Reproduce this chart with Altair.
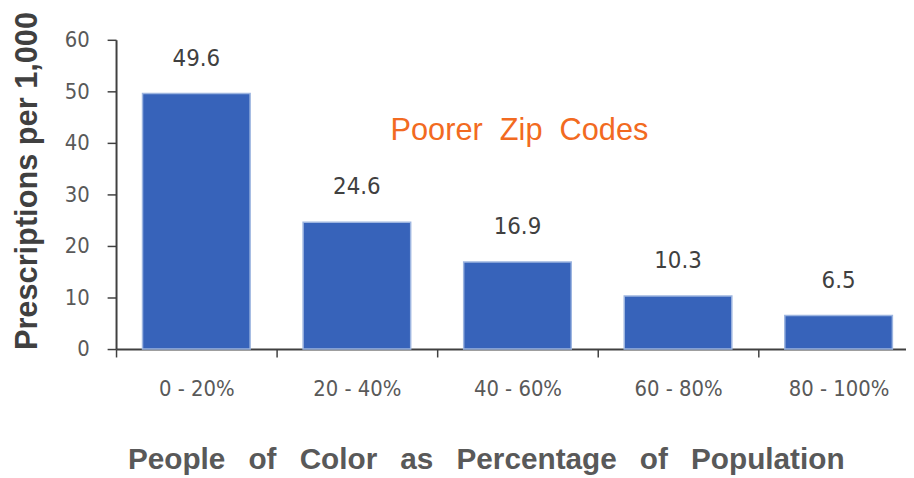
import altair as alt
import pandas as pd

categories = ["0 - 20%", "20 - 40%", "40 - 60%", "60 - 80%", "80 - 100%"]
values = [49.6, 24.6, 16.9, 10.3, 6.5]
labels = ["49.6", "24.6", "16.9", "10.3", "6.5"]
y_ticks = [0, 10, 20, 30, 40, 50, 60]

x_title = "People\u00a0\u2002of\u00a0\u2002Color\u00a0\u2002as\u00a0\u2002Percentage\u00a0\u2002of\u00a0\u2002Population"
y_title = "Prescriptions per 1,000"

note_text = ["Poorer\u00a0\u00a0Zip\u00a0\u00a0Codes"]
note_cat = ["40 - 60%"]
note_y = [42.3]

df = pd.DataFrame({"cat": categories, "val": values, "lab": labels})
note_df = pd.DataFrame({"cat": note_cat, "y": note_y, "t": note_text})

cond = "DejaVu Sans Condensed"

x_scale = alt.Scale(paddingInner=0, paddingOuter=0, range=[0, 810])

x_enc = alt.X(
    "cat:N",
    sort=categories,
    scale=x_scale,
    axis=alt.Axis(
        title=x_title,
        titleFont="Liberation Sans",
        titleFontSize=30,
        titleFontWeight="bold",
        titleColor="#595959",
        titleX=373,
        titleY=112,
        titleBaseline="middle",
        titleAlign="center",
        labelAngle=0,
        labelFont=cond,
        labelFontSize=22,
        labelColor="#595959",
        labelBaseline="middle",
        labelPadding=32,
        domainColor="#404040",
        domainWidth=2,
        tickColor="#404040",
        tickSize=8,
        tickWidth=1.5,
        tickBand="extent",
    ),
)

y_scale = alt.Scale(domain=[0, 60], nice=False)

bars = alt.Chart(df).mark_bar(
    color="#3763BA", stroke="#9DB5E0", strokeWidth=1.5,
    width=alt.RelativeBandSize(0.67),
).encode(
    x=x_enc,
    y=alt.Y(
        "val:Q",
        scale=y_scale,
        axis=alt.Axis(
            values=y_ticks,
            title=y_title,
            titleFont="Liberation Sans",
            titleFontSize=31,
            titleFontWeight="bold",
            titleColor="#404040",
            titleAngle=-90,
            titleX=-89,
            titleY=142,
            titleBaseline="middle",
            titleAlign="center",
            labelFont=cond,
            labelFontSize=22,
            labelColor="#595959",
            labelBaseline="middle",
            labelPadding=18,
            domainColor="#404040",
            domainWidth=2,
            tickColor="#404040",
            tickSize=9,
            tickWidth=1.5,
            grid=False,
        ),
    ),
)

bar_labels = alt.Chart(df).mark_text(
    font=cond, fontSize=24, color="#404040", dy=-35, baseline="middle"
).encode(
    x=alt.X("cat:N", sort=categories, scale=x_scale),
    y=alt.Y("val:Q", scale=y_scale),
    text="lab:N",
)

note = alt.Chart(note_df).mark_text(
    font="Liberation Sans", fontSize=31, color="#F26A21", baseline="middle", align="center", dx=2
).encode(
    x=alt.X("cat:N", sort=categories, scale=x_scale),
    y=alt.Y("y:Q", scale=y_scale),
    text="t:N",
)

chart = (
    alt.layer(bars, bar_labels, note)
    .properties(
        width=797,
        height=312,
        padding={"left": 109, "top": 30, "right": 0, "bottom": 125},
        autosize=alt.AutoSizeParams(type="none"),
    )
    .configure(background="white")
    .configure_view(stroke=None)
)

chart.save("out.html", embed_options={"renderer": "svg", "actions": False})
